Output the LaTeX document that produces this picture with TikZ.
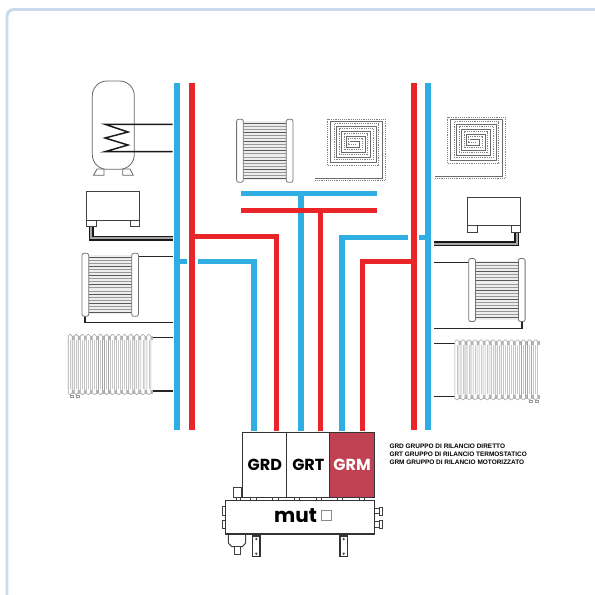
\documentclass[tikz,border=0pt]{standalone}
\usepackage{fontspec}
\setmainfont{Liberation Sans}
\newfontfamily\markfont{Poppins}
\usetikzlibrary{positioning}
\definecolor{pipeblue}{HTML}{2FAEE4}
\definecolor{pipered}{HTML}{E9252A}
\definecolor{grmred}{HTML}{C04152}
\definecolor{frameblue}{HTML}{C9DAEA}
\tikzset{every picture/.style={line width=0.75pt}}
\tikzset{
  bluepipe/.style={draw=pipeblue, line width=4.1pt},
  redpipe/.style={draw=pipered, line width=4.1pt},
  linkpipe/.style={draw=black!85, line width=1.1pt},
  outline/.style={draw=black!75, line width=0.75pt, fill=white},
  collector/.style={draw=black!55, line width=0.6pt, fill=white, rounded corners=1.5pt},
  unitbox/.style={draw=black!80, line width=0.8pt, anchor=north west, minimum height=49.2pt, inner sep=0pt, font=\markfont\bfseries\fontsize{12}{12}\selectfont},
  legend/.style={anchor=west, inner sep=0pt, font=\bfseries\fontsize{4.85}{6}\selectfont}
}
% doppia linea del ventilconvettore
\newcommand{\doubleline}[1]{
  \draw[draw=black!90, line width=3.6pt, line join=miter] #1;
  \draw[draw=black!35, line width=1.3pt, line join=miter] #1;
}
% radiatore a salviette
\newcommand{\towelrad}[2]{
  \begin{scope}[shift={(#1,#2)}]
    \fill[black!7] (6,2) rectangle (50,61);
    \foreach \i in {0,...,18} {
      \pgfmathsetmacro{\shade}{mod(\i,3)==0 ? 65 : 40}
      \draw[black!\shade, line width=0.5pt] (6.7,{4+\i*3.05}) -- (49.7,{4+\i*3.05});
    }
    \draw[collector] (0,0) rectangle (6.7,63);
    \draw[collector] (49.7,0) rectangle (56.4,63);
  \end{scope}
}
% radiatore a colonne
\newcommand{\columnrad}[2]{
  \begin{scope}[shift={(#1,#2)}]
    \foreach \i in {0,...,13} {
      \draw[black!35, line width=0.45pt, fill=white, rounded corners=1.2pt] ({\i*6.05+0.9},0.5) rectangle ({\i*6.05+4.9},60.5);
      \draw[black!22, line width=0.4pt] ({\i*6.05+2.9},6) -- ({\i*6.05+2.9},55);
      \fill[black!30] ({\i*6.05+4.9},1.5) rectangle ({\i*6.05+6.95},5.5);
      \fill[black!30] ({\i*6.05+4.9},55.5) rectangle ({\i*6.05+6.95},59.5);
    }
  \end{scope}
}
% pannello radiante
\newcommand{\floorcoil}[2]{
  \begin{scope}[shift={(#1,#2)}]
    \draw[black!58, line width=0.75pt] (435,176) -- (502.7,176) -- (502.7,119.3) -- (450,119.3) -- (450,160.7) -- (496,160.7) -- (496,124) -- (456.7,124) -- (456.7,155) -- (490.7,155) -- (490.7,129.3) -- (461.7,129.3) -- (461.7,150) -- (485,150) -- (485,134.3) -- (466.7,134.3) -- (466.7,145) -- (479.3,145) -- (479.3,139) -- (470,139);
    \draw[black!50, line width=0.7pt, dash pattern=on 0.7pt off 0.7pt] (435,178.5) -- (505,178.5) -- (505,117) -- (447.7,117) -- (447.7,163) -- (498.5,163) -- (498.5,121.7) -- (454,121.7) -- (454,157.5) -- (493.3,157.5) -- (493.3,126.8) -- (459,126.8) -- (459,152.5) -- (487.8,152.5) -- (487.8,131.8) -- (464,131.8) -- (464,147.5) -- (482,147.5) -- (482,136.5) -- (468,136.5) -- (468,142) -- (476,142);
  \end{scope}
}

\begin{document}
\begin{tikzpicture}[x=0.75pt, y=-0.75pt]
    \useasboundingbox (0,0) rectangle (595,594);
    \fill[white] (0,0) rectangle (595,594);
    % cornice
    \draw[frameblue, line width=2.2pt, rounded corners=5pt] (7,600) -- (7,9.5) -- (600,9.5);

    % tubazioni: prima il blu
    \draw[bluepipe] (177,83) -- (177,430);
    \draw[bluepipe] (428,83) -- (428,430);
    \draw[bluepipe] (177,261.7) -- (187,261.7);
    \draw[bluepipe] (197.7,261.7) -- (254,261.7) -- (254,431);
    \draw[bluepipe] (240.7,193.3) -- (377.3,193.3);
    \draw[bluepipe] (301,193.3) -- (301,431);
    \draw[bluepipe] (342,431) -- (342,237.3) -- (408,237.3);
    \draw[bluepipe] (418.7,237.3) -- (428,237.3);

    % tubazioni: rosso
    \draw[redpipe] (192,83) -- (192,430);
    \draw[redpipe] (414,83) -- (414,430);
    \draw[redpipe] (192,236.3) -- (276.7,236.3) -- (276.7,431);
    \draw[redpipe] (240.7,210.3) -- (377.3,210.3);
    \draw[redpipe] (320.7,210.3) -- (320.7,431);
    \draw[redpipe] (362.3,431) -- (362.3,261.7) -- (414,261.7);

    % bollitore
    \draw[black!60, line width=0.6pt, fill=white] (97,169) -- (93.5,175.3) -- (104,175.3) -- (104,169) -- cycle;
    \draw[black!60, line width=0.6pt, fill=white] (122.7,169) -- (122.7,175.3) -- (133.3,175.3) -- (130,169) -- cycle;
    \draw[black!60, line width=0.6pt, fill=white, rounded corners=11pt] (92.3,81) rectangle (134.3,169.3);
    \draw[black!90, line width=1.1pt, line join=miter] (172.7,124.3) -- (105,124.3) -- (128,132) -- (105,138) -- (128,145) -- (105,151.7) -- (172.7,151.7);

    % ventilconvettore sinistro
    \doubleline{(172.7,238.2) -- (91.3,238.2) -- (91.3,226)}
    \draw[outline] (86,191.7) rectangle (139.7,220);
    \draw[outline] (86.7,220) rectangle (96,226.7);
    \draw[outline] (130,220) rectangle (139.7,226.7);

    % ventilconvettore destro
    \doubleline{(434.3,243.7) -- (516.7,243.7) -- (516.7,232)}
    \draw[outline] (467.3,197) rectangle (520.7,225);
    \draw[outline] (467.7,225) rectangle (477,232.3);
    \draw[outline] (511,225) rectangle (520.7,232.3);

    % collegamenti radiatori
    \draw[linkpipe] (138,256.7) -- (172.7,256.7);
    \draw[linkpipe] (85,316) -- (85,322.7) -- (172.7,322.7);
    \draw[linkpipe] (153,337.7) -- (172.7,337.7);
    \draw[linkpipe] (153,391) -- (172.7,391);
    \draw[linkpipe] (434.3,262.3) -- (469,262.3);
    \draw[linkpipe] (434.3,328.3) -- (522,328.3) -- (522,321);
    \draw[linkpipe] (434.3,343.3) -- (454.5,343.3);
    \draw[linkpipe] (434.3,396.7) -- (454.5,396.7);

    % radiatori
    \towelrad{82}{253.3}
    \towelrad{236.6}{119.3}
    \towelrad{468.7}{258.5}
    \columnrad{67.3}{334}
    \columnrad{454}{339.3}
    \draw[black!40, line width=0.45pt, fill=white] (70,395) rectangle (73,397.3);
    \draw[black!40, line width=0.45pt, fill=white] (76,395) rectangle (79,397.3);
    \draw[black!40, line width=0.45pt, fill=white] (529,400) rectangle (532,402.7);
    \draw[black!40, line width=0.45pt, fill=white] (535,400) rectangle (538,402.7);

    % pannelli radianti
    \floorcoil{0}{0}
    \floorcoil{-120}{2}

    % gruppi di rilancio
    \node[unitbox, fill=white, minimum width=33pt] (grd) at (242.3,431.7) {GRD};
    \node[unitbox, fill=white, minimum width=32.25pt] (grt) at (286.3,431.7) {GRT};
    \node[unitbox, fill=grmred, text=white, minimum width=33.4pt] (grm) at (329.3,431.7) {GRM};

    % legenda
    \node[legend] (legendgrd) at (389,446.7) {GRD GRUPPO DI RILANCIO DIRETTO};
    \node[legend] (legendgrt) at (389,454.5) {GRT GRUPPO DI RILANCIO TERMOSTATICO};
    \node[legend] (legendgrm) at (389,462.3) {GRM GRUPPO DI RILANCIO MOTORIZZATO};

    % collettore
    \foreach \a/\b in {250.7/256, 272.7/278, 294.3/299, 316.7/321.3, 337.7/342.7, 359.3/364.7} {
      \draw[black!75, line width=0.6pt] (\a,497.3) rectangle (\b,500.7);
    }
    \draw[outline] (233,487.3) rectangle (241.7,497.3);
    \draw[outline] (236,497.3) rectangle (240,500.7);
    \draw[outline] (222.3,506.7) rectangle (225.7,515.3);
    \draw[outline] (222.3,520) rectangle (225.7,528.7);
    \foreach \yy in {507,520.7} {
      \draw[outline] (374.7,{\yy+1.2}) rectangle (379,{\yy+6.5});
      \draw[outline] (379,\yy) rectangle (382.7,{\yy+8});
    }
    \draw[outline] (228.3,534) -- (245.7,534) -- (245.7,543) -- (242.3,546.7) -- (231.7,546.7) -- (228.3,543) -- cycle;
    \draw[outline] (234,546.7) rectangle (240,554.7);
    \foreach \xx in {252.7,340} {
      \draw[draw=black!80, line width=0.8pt, fill=white] (\xx,536) rectangle ({\xx+7.3},556.7);
      \fill[black!70] ({\xx+3.65},539) circle (1pt);
      \fill[black!70] ({\xx+3.65},553.7) circle (1pt);
    }
    \draw[draw=black!80, line width=0.8pt, fill=white] (225.7,500.7) rectangle (374.7,534);
    \node[inner sep=0pt, font=\markfont\bfseries\fontsize{15}{15}\selectfont] (mutlabel) at (295.5,515.5) {mut};
    \node[draw=black!45, line width=0.6pt, minimum size=7pt, inner sep=0pt, right=3pt of mutlabel] (mutmark) {};
\end{tikzpicture}
\end{document}
